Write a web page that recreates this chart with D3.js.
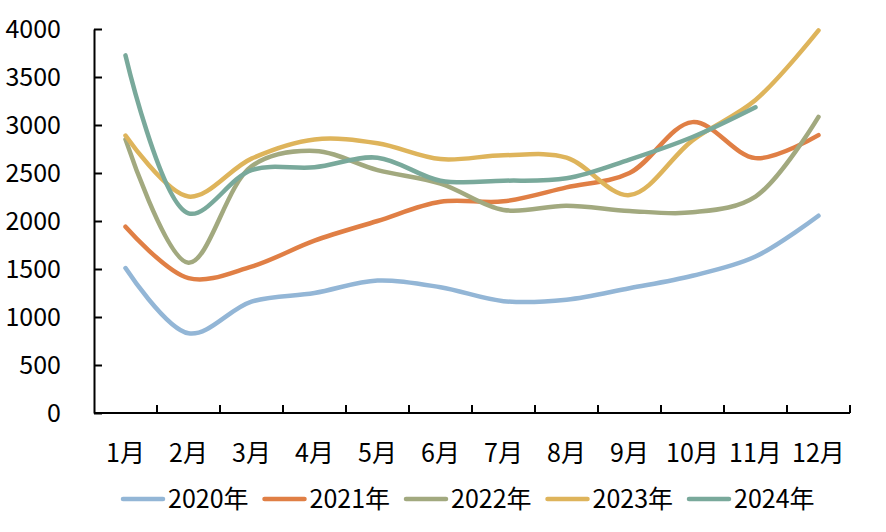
<!DOCTYPE html>
<html><head><meta charset="utf-8">
<script src="https://cdn.jsdelivr.net/npm/d3@7"></script>
<style>body{margin:0;background:#fff}svg{display:block}text{font-family:"Noto Sans CJK SC","Noto Sans",sans-serif;fill:#000}</style>
</head><body>
<script>
const months = ["1月","2月","3月","4月","5月","6月","7月","8月","9月","10月","11月","12月"];
const yTicks = [0,500,1000,1500,2000,2500,3000,3500,4000];
const seriesNames = ["2020年","2021年","2022年","2023年","2024年"];
const s2020 = [1510,830,1160,1250,1380,1310,1165,1180,1300,1430,1630,2055];
const s2021 = [1940,1405,1525,1795,2000,2200,2205,2350,2500,3030,2655,2895];
const s2022 = [2850,1565,2570,2730,2530,2390,2115,2160,2105,2090,2255,3085];
const s2023 = [2890,2255,2650,2850,2810,2645,2685,2660,2270,2840,3260,3985];
const s2024 = [3725,2080,2530,2560,2660,2420,2420,2445,2640,2875,3185];
const colors = ["#93B6D6","#E07F45","#A2A97F","#DEB45B","#79A99B"];
const allSeries = [s2020,s2021,s2022,s2023,s2024];

const FS = 25;
const W=886,H=532, L=94, R=850, T=29, B=413;
const svg = d3.select("body").append("svg").attr("width",W).attr("height",H);
const x = d3.scaleBand().domain(months).range([L,R]);
const y = d3.scaleLinear().domain([0,4000]).range([B,T]);

// axes
const yAxis = svg.append("g").attr("transform",`translate(${L},0)`)
  .call(d3.axisLeft(y).tickValues(yTicks).tickFormat(d3.format("d")).tickSizeInner(-8).tickSizeOuter(0).tickPadding(33));
yAxis.select(".domain").attr("stroke","#000").attr("stroke-width",2);
yAxis.selectAll(".tick line").attr("stroke","#000").attr("stroke-width",2);
yAxis.selectAll("text").attr("font-size",FS).attr("fill","#000").style("font-family",'"Noto Sans CJK SC","Noto Sans",sans-serif');

const xg = svg.append("g").attr("transform",`translate(0,${B})`);
xg.append("line").attr("x1",L).attr("x2",R).attr("stroke","#000").attr("stroke-width",2);
const bounds = months.map(m=>x(m)+x.bandwidth());
xg.selectAll("line.tk").data(bounds).join("line").attr("class","tk")
  .attr("x1",d=>d).attr("x2",d=>d).attr("y1",0).attr("y2",-8).attr("stroke","#000").attr("stroke-width",2);
xg.selectAll("text").data(months).join("text")
  .attr("x",d=>x(d)+x.bandwidth()/2).attr("y",49).attr("text-anchor","middle")
  .attr("font-size",FS).text(d=>d);

// lines
const line = d3.line().x((d,i)=>x(months[i])+x.bandwidth()/2).y(d=>y(d)).curve(d3.curveCatmullRom.alpha(0.5));
svg.append("g").selectAll("path").data(allSeries).join("path")
  .attr("d",d=>line(d)).attr("fill","none").attr("stroke",(d,i)=>colors[i])
  .attr("stroke-width",4.5).attr("stroke-linecap","round").attr("stroke-linejoin","round");

// legend
const lg = svg.append("g");
const lx0 = 123, pitch = 141.5, ly = 499;
seriesNames.forEach((n,i)=>{
  const gx = lx0 + i*pitch;
  lg.append("line").attr("x1",gx).attr("x2",gx+40).attr("y1",ly).attr("y2",ly)
    .attr("stroke",colors[i]).attr("stroke-width",4.5).attr("stroke-linecap","round");
  lg.append("text").attr("x",gx+45).attr("y",ly).attr("dy","0.36em").attr("font-size",FS).text(n);
});
</script>
</body></html>
